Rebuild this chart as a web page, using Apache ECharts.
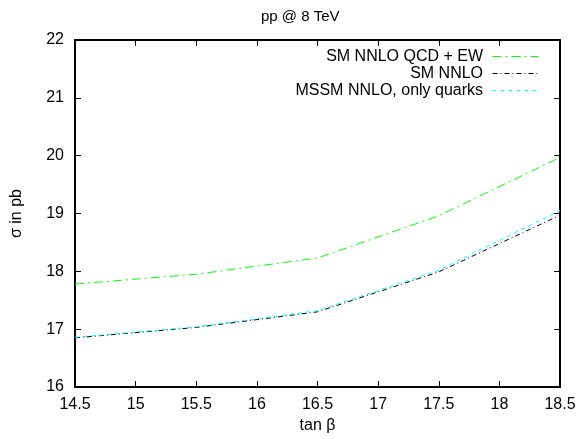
<!DOCTYPE html>
<html>
<head>
<meta charset="utf-8">
<script src="https://cdn.jsdelivr.net/npm/echarts@6/dist/echarts.min.js"></script>
<style>html,body{margin:0;padding:0;background:#fff;}#c{width:581px;height:439px;}</style>
</head>
<body>
<div id="c"></div>
<script>
const tanBeta = [14.5, 15.5, 16.5, 17.5, 18.5];
const smQcdEw = [17.78, 17.95, 18.23, 18.96, 19.97];
const smNnlo = [16.85, 17.03, 17.30, 17.99, 18.97];
const mssmQuarks = [16.86, 17.04, 17.32, 18.02, 19.05];
const seriesNames = ['SM NNLO QCD + EW', 'SM NNLO', 'MSSM NNLO, only quarks'];

const font = 'Liberation Sans, Arial, sans-serif';
const chart = echarts.init(document.getElementById('c'), null, {renderer: 'canvas'});
function pairs(xs, ys) { return xs.map((x, i) => [x, ys[i]]); }
const axisLine = {show: true, lineStyle: {color: '#000', width: 2}};
const tick = {show: true, inside: true, length: 6, lineStyle: {color: '#000', width: 1}};
chart.setOption({
  animation: false,
  title: {text: 'pp @ 8 TeV', left: 256, top: 4, textStyle: {fontFamily: font, fontSize: 15, fontWeight: 'normal', color: '#000'}},
  grid: {left: 75, right: 21, top: 40, bottom: 52},
  legend: {
    orient: 'vertical', right: 42, top: 48, align: 'right', padding: 0,
    itemWidth: 46, itemHeight: 10, itemGap: 0,
    itemStyle: {opacity: 0},
    lineStyle: {width: 1},
    formatter: n => n + ' ',
    textStyle: {fontFamily: font, fontSize: 16, lineHeight: 17, color: '#000'},
    data: seriesNames
  },
  xAxis: [{
    type: 'value', min: 14.5, max: 18.5, interval: 0.5,
    name: 'tan β', nameLocation: 'middle', nameGap: 30,
    nameTextStyle: {fontFamily: font, fontSize: 16, color: '#000'},
    axisLine, axisTick: tick, splitLine: {show: false},
    axisLabel: {fontFamily: font, fontSize: 16, color: '#000', margin: 10}
  }, {
    type: 'value', position: 'top', min: 14.5, max: 18.5, interval: 0.5,
    axisLine, axisTick: tick, axisLabel: {show: false}, splitLine: {show: false}
  }],
  yAxis: [{
    type: 'value', min: 16, max: 22, interval: 1,
    name: 'σ in pb', nameLocation: 'middle', nameGap: 50,
    nameTextStyle: {fontFamily: font, fontSize: 16, color: '#000'},
    axisLine, axisTick: tick, splitLine: {show: false},
    axisLabel: {fontFamily: font, fontSize: 16, color: '#000', margin: 11}
  }, {
    type: 'value', position: 'right', min: 16, max: 22, interval: 1,
    axisLine, axisTick: tick, axisLabel: {show: false}, splitLine: {show: false}
  }],
  series: [
    {name: seriesNames[0], type: 'line', data: pairs(tanBeta, smQcdEw), symbol: 'none',
     lineStyle: {color: '#00ff00', width: 1, type: [9, 4, 2, 4]}, itemStyle: {color: '#00ff00'}},
    {name: seriesNames[1], type: 'line', data: pairs(tanBeta, smNnlo), symbol: 'none',
     lineStyle: {color: '#000000', width: 1, type: [5, 3, 1, 3]}, itemStyle: {color: '#000000'}},
    {name: seriesNames[2], type: 'line', data: pairs(tanBeta, mssmQuarks), symbol: 'none',
     lineStyle: {color: '#00ffff', width: 1, type: [4, 4]}, itemStyle: {color: '#00ffff'}}
  ]
});
</script>
</body>
</html>
